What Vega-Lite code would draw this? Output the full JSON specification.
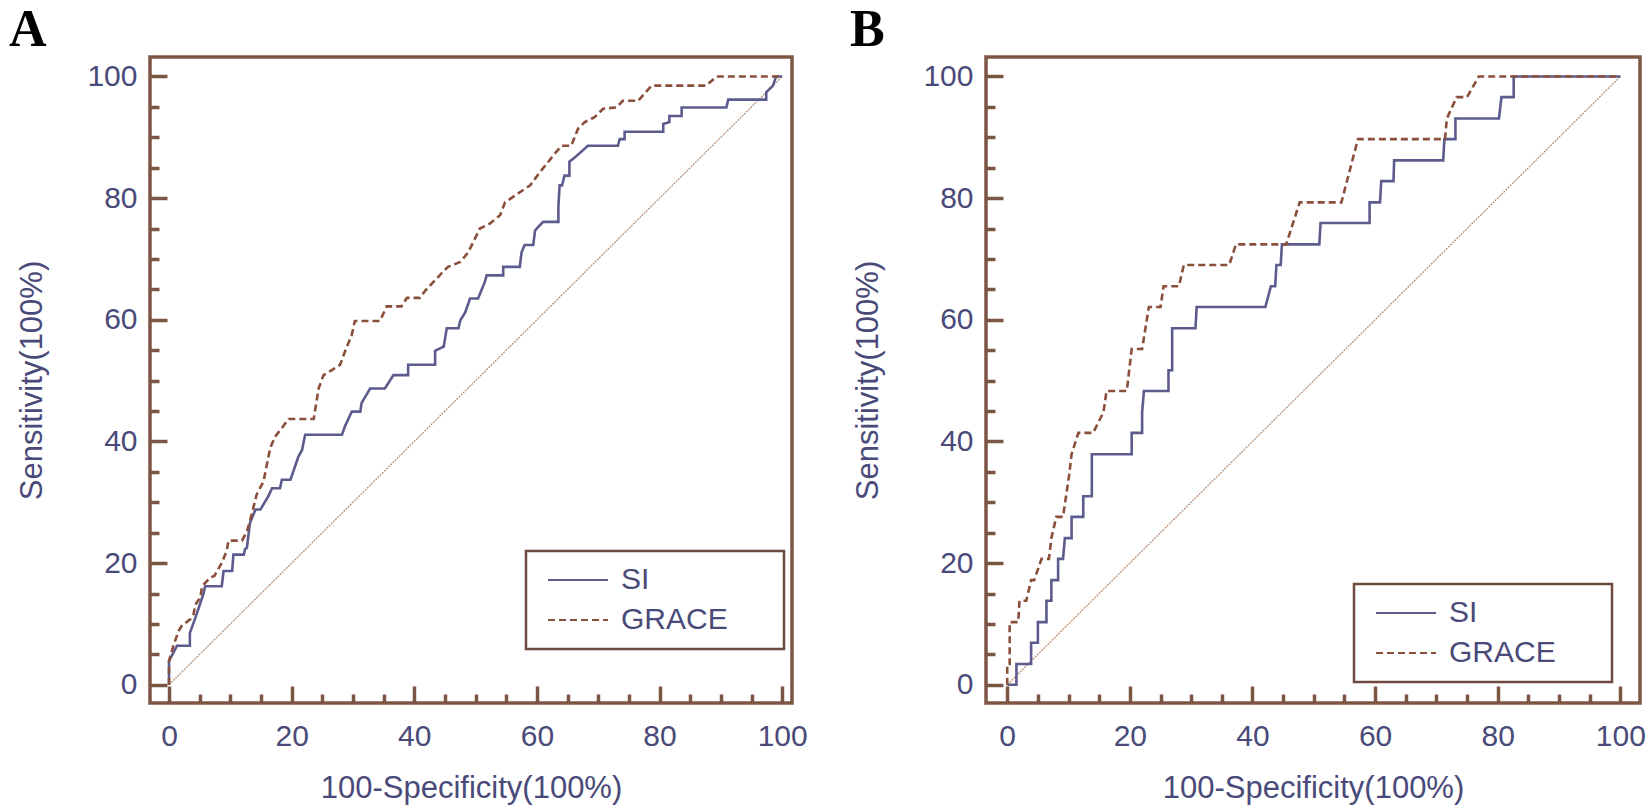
{
  "$schema": "https://vega.github.io/schema/vega-lite/v6.json",
  "background": "white",
  "padding": {"left": 7, "top": 2, "right": 0, "bottom": 0},
  "bounds": "flush",
  "spacing": 194,
  "resolve": {
    "scale": {"color": "independent", "strokeDash": "independent"},
    "legend": {"color": "independent", "strokeDash": "independent"}
  },
  "datasets": {
    "diag": [{"fpr": 0, "tpr": 0}, {"fpr": 100, "tpr": 100}],
    "A": [
      {"model":"SI","i":0,"fpr":0,"tpr":0},{"model":"SI","i":1,"fpr":0,"tpr":3.9},{"model":"SI","i":2,"fpr":1.3,"tpr":6.4},{"model":"SI","i":3,"fpr":3.4,"tpr":6.4},{"model":"SI","i":4,"fpr":3.4,"tpr":8.5},{"model":"SI","i":5,"fpr":4.3,"tpr":11},{"model":"SI","i":6,"fpr":5.6,"tpr":14.9},{"model":"SI","i":7,"fpr":5.9,"tpr":16.2},{"model":"SI","i":8,"fpr":8.6,"tpr":16.2},{"model":"SI","i":9,"fpr":8.9,"tpr":18.7},{"model":"SI","i":10,"fpr":10.3,"tpr":18.7},{"model":"SI","i":11,"fpr":10.5,"tpr":21.4},{"model":"SI","i":12,"fpr":12.2,"tpr":21.4},{"model":"SI","i":13,"fpr":12.4,"tpr":22.3},{"model":"SI","i":14,"fpr":12.7,"tpr":22.5},{"model":"SI","i":15,"fpr":13.2,"tpr":26.6},{"model":"SI","i":16,"fpr":14.1,"tpr":28.8},{"model":"SI","i":17,"fpr":14.9,"tpr":28.8},{"model":"SI","i":18,"fpr":16.2,"tpr":31},{"model":"SI","i":19,"fpr":16.8,"tpr":32.3},{"model":"SI","i":20,"fpr":18.1,"tpr":32.3},{"model":"SI","i":21,"fpr":18.4,"tpr":33.7},{"model":"SI","i":22,"fpr":19.8,"tpr":33.7},{"model":"SI","i":23,"fpr":21.1,"tpr":37.5},{"model":"SI","i":24,"fpr":21.7,"tpr":38.6},{"model":"SI","i":25,"fpr":22.2,"tpr":41.1},{"model":"SI","i":26,"fpr":28.2,"tpr":41.1},{"model":"SI","i":27,"fpr":28.7,"tpr":42.5},{"model":"SI","i":28,"fpr":29.8,"tpr":44.9},{"model":"SI","i":29,"fpr":31.2,"tpr":44.9},{"model":"SI","i":30,"fpr":31.4,"tpr":46.3},{"model":"SI","i":31,"fpr":32.8,"tpr":48.7},{"model":"SI","i":32,"fpr":35.2,"tpr":48.7},{"model":"SI","i":33,"fpr":36.6,"tpr":50.9},{"model":"SI","i":34,"fpr":39,"tpr":50.9},{"model":"SI","i":35,"fpr":39,"tpr":52.6},{"model":"SI","i":36,"fpr":43.4,"tpr":52.6},{"model":"SI","i":37,"fpr":43.4,"tpr":54.9},{"model":"SI","i":38,"fpr":44.8,"tpr":55.6},{"model":"SI","i":39,"fpr":45.3,"tpr":58.6},{"model":"SI","i":40,"fpr":47.2,"tpr":58.6},{"model":"SI","i":41,"fpr":47.5,"tpr":59.9},{"model":"SI","i":42,"fpr":48.3,"tpr":61.2},{"model":"SI","i":43,"fpr":49.1,"tpr":63.5},{"model":"SI","i":44,"fpr":50.4,"tpr":63.5},{"model":"SI","i":45,"fpr":51.5,"tpr":66.2},{"model":"SI","i":46,"fpr":51.8,"tpr":67.3},{"model":"SI","i":47,"fpr":54.5,"tpr":67.3},{"model":"SI","i":48,"fpr":54.5,"tpr":68.7},{"model":"SI","i":49,"fpr":57.2,"tpr":68.7},{"model":"SI","i":50,"fpr":57.5,"tpr":71.1},{"model":"SI","i":51,"fpr":58,"tpr":72.3},{"model":"SI","i":52,"fpr":59.4,"tpr":72.3},{"model":"SI","i":53,"fpr":59.7,"tpr":74.7},{"model":"SI","i":54,"fpr":61,"tpr":76.1},{"model":"SI","i":55,"fpr":63.5,"tpr":76.1},{"model":"SI","i":56,"fpr":63.5,"tpr":78.5},{"model":"SI","i":57,"fpr":63.7,"tpr":82.1},{"model":"SI","i":58,"fpr":64.1,"tpr":82.1},{"model":"SI","i":59,"fpr":64.5,"tpr":83.7},{"model":"SI","i":60,"fpr":65.3,"tpr":83.7},{"model":"SI","i":61,"fpr":65.3,"tpr":86},{"model":"SI","i":62,"fpr":66.2,"tpr":86.7},{"model":"SI","i":63,"fpr":68.3,"tpr":88.6},{"model":"SI","i":64,"fpr":73.2,"tpr":88.6},{"model":"SI","i":65,"fpr":73.5,"tpr":89.7},{"model":"SI","i":66,"fpr":74.3,"tpr":89.7},{"model":"SI","i":67,"fpr":74.3,"tpr":90.9},{"model":"SI","i":68,"fpr":80.6,"tpr":90.9},{"model":"SI","i":69,"fpr":80.6,"tpr":92.2},{"model":"SI","i":70,"fpr":81.6,"tpr":92.5},{"model":"SI","i":71,"fpr":81.6,"tpr":93.5},{"model":"SI","i":72,"fpr":83.6,"tpr":93.5},{"model":"SI","i":73,"fpr":83.6,"tpr":94.9},{"model":"SI","i":74,"fpr":90.9,"tpr":94.9},{"model":"SI","i":75,"fpr":91.2,"tpr":96.2},{"model":"SI","i":76,"fpr":97.4,"tpr":96.2},{"model":"SI","i":77,"fpr":97.4,"tpr":97.4},{"model":"SI","i":78,"fpr":98.5,"tpr":98.5},{"model":"SI","i":79,"fpr":99,"tpr":100},{"model":"SI","i":80,"fpr":100,"tpr":100},
      {"model":"GRACE","i":0,"fpr":0,"tpr":0},{"model":"GRACE","i":1,"fpr":0,"tpr":3.9},{"model":"GRACE","i":2,"fpr":0.8,"tpr":6.7},{"model":"GRACE","i":3,"fpr":1.6,"tpr":8.9},{"model":"GRACE","i":4,"fpr":2.1,"tpr":9.7},{"model":"GRACE","i":5,"fpr":3.5,"tpr":10.8},{"model":"GRACE","i":6,"fpr":4,"tpr":11.6},{"model":"GRACE","i":7,"fpr":4.3,"tpr":13.2},{"model":"GRACE","i":8,"fpr":5.1,"tpr":14.3},{"model":"GRACE","i":9,"fpr":5.4,"tpr":16.2},{"model":"GRACE","i":10,"fpr":6.7,"tpr":17.6},{"model":"GRACE","i":11,"fpr":7.4,"tpr":17.9},{"model":"GRACE","i":12,"fpr":8.6,"tpr":20},{"model":"GRACE","i":13,"fpr":9.4,"tpr":22},{"model":"GRACE","i":14,"fpr":9.7,"tpr":23.7},{"model":"GRACE","i":15,"fpr":11.9,"tpr":23.7},{"model":"GRACE","i":16,"fpr":12.7,"tpr":25.2},{"model":"GRACE","i":17,"fpr":13.2,"tpr":26.9},{"model":"GRACE","i":18,"fpr":14.3,"tpr":31.3},{"model":"GRACE","i":19,"fpr":15.4,"tpr":33.4},{"model":"GRACE","i":20,"fpr":16.5,"tpr":38.9},{"model":"GRACE","i":21,"fpr":17.3,"tpr":40.8},{"model":"GRACE","i":22,"fpr":18.4,"tpr":42.2},{"model":"GRACE","i":23,"fpr":19.5,"tpr":43.7},{"model":"GRACE","i":24,"fpr":23.6,"tpr":43.7},{"model":"GRACE","i":25,"fpr":24.4,"tpr":48.7},{"model":"GRACE","i":26,"fpr":25.2,"tpr":50.9},{"model":"GRACE","i":27,"fpr":26.5,"tpr":51.7},{"model":"GRACE","i":28,"fpr":27.9,"tpr":52.6},{"model":"GRACE","i":29,"fpr":28.7,"tpr":54.8},{"model":"GRACE","i":30,"fpr":29.8,"tpr":57.5},{"model":"GRACE","i":31,"fpr":30.3,"tpr":59.8},{"model":"GRACE","i":32,"fpr":34.4,"tpr":59.8},{"model":"GRACE","i":33,"fpr":35.5,"tpr":62.2},{"model":"GRACE","i":34,"fpr":37.9,"tpr":62.2},{"model":"GRACE","i":35,"fpr":38.8,"tpr":63.6},{"model":"GRACE","i":36,"fpr":40.9,"tpr":63.6},{"model":"GRACE","i":37,"fpr":41.8,"tpr":64.8},{"model":"GRACE","i":38,"fpr":44.7,"tpr":67.9},{"model":"GRACE","i":39,"fpr":45.5,"tpr":68.7},{"model":"GRACE","i":40,"fpr":47.5,"tpr":69.5},{"model":"GRACE","i":41,"fpr":48.8,"tpr":71.1},{"model":"GRACE","i":42,"fpr":50.7,"tpr":75},{"model":"GRACE","i":43,"fpr":52.3,"tpr":75.8},{"model":"GRACE","i":44,"fpr":54,"tpr":77.2},{"model":"GRACE","i":45,"fpr":54.8,"tpr":79.3},{"model":"GRACE","i":46,"fpr":56.4,"tpr":80.4},{"model":"GRACE","i":47,"fpr":58.9,"tpr":82.1},{"model":"GRACE","i":48,"fpr":60.5,"tpr":84.3},{"model":"GRACE","i":49,"fpr":61.8,"tpr":85.9},{"model":"GRACE","i":50,"fpr":62.9,"tpr":87.3},{"model":"GRACE","i":51,"fpr":64,"tpr":88.6},{"model":"GRACE","i":52,"fpr":65.6,"tpr":88.6},{"model":"GRACE","i":53,"fpr":66.7,"tpr":91.4},{"model":"GRACE","i":54,"fpr":67.8,"tpr":92.5},{"model":"GRACE","i":55,"fpr":69.4,"tpr":93.3},{"model":"GRACE","i":56,"fpr":70.8,"tpr":94.7},{"model":"GRACE","i":57,"fpr":73,"tpr":94.9},{"model":"GRACE","i":58,"fpr":74,"tpr":96},{"model":"GRACE","i":59,"fpr":76.5,"tpr":96},{"model":"GRACE","i":60,"fpr":78.7,"tpr":98.5},{"model":"GRACE","i":61,"fpr":87.6,"tpr":98.5},{"model":"GRACE","i":62,"fpr":89.3,"tpr":100},{"model":"GRACE","i":63,"fpr":100,"tpr":100}
    ],
    "B": [
      {"model":"SI","i":0,"fpr":0,"tpr":0},{"model":"SI","i":1,"fpr":1.5,"tpr":0},{"model":"SI","i":2,"fpr":1.5,"tpr":3.4},{"model":"SI","i":3,"fpr":3.9,"tpr":3.4},{"model":"SI","i":4,"fpr":3.9,"tpr":6.9},{"model":"SI","i":5,"fpr":5,"tpr":6.9},{"model":"SI","i":6,"fpr":5,"tpr":10.3},{"model":"SI","i":7,"fpr":6.4,"tpr":10.3},{"model":"SI","i":8,"fpr":6.4,"tpr":13.8},{"model":"SI","i":9,"fpr":7.2,"tpr":13.8},{"model":"SI","i":10,"fpr":7.2,"tpr":17.2},{"model":"SI","i":11,"fpr":8.3,"tpr":17.2},{"model":"SI","i":12,"fpr":8.3,"tpr":20.7},{"model":"SI","i":13,"fpr":9.1,"tpr":20.7},{"model":"SI","i":14,"fpr":9.4,"tpr":24.1},{"model":"SI","i":15,"fpr":10.5,"tpr":24.1},{"model":"SI","i":16,"fpr":10.5,"tpr":27.6},{"model":"SI","i":17,"fpr":12.4,"tpr":27.6},{"model":"SI","i":18,"fpr":12.4,"tpr":31},{"model":"SI","i":19,"fpr":13.8,"tpr":31},{"model":"SI","i":20,"fpr":13.8,"tpr":37.9},{"model":"SI","i":21,"fpr":20.3,"tpr":37.9},{"model":"SI","i":22,"fpr":20.3,"tpr":41.4},{"model":"SI","i":23,"fpr":22,"tpr":41.4},{"model":"SI","i":24,"fpr":22,"tpr":44.8},{"model":"SI","i":25,"fpr":22.3,"tpr":48.3},{"model":"SI","i":26,"fpr":26.3,"tpr":48.3},{"model":"SI","i":27,"fpr":26.3,"tpr":51.7},{"model":"SI","i":28,"fpr":26.9,"tpr":51.7},{"model":"SI","i":29,"fpr":26.9,"tpr":58.6},{"model":"SI","i":30,"fpr":30.7,"tpr":58.6},{"model":"SI","i":31,"fpr":30.9,"tpr":62.1},{"model":"SI","i":32,"fpr":42.1,"tpr":62.1},{"model":"SI","i":33,"fpr":43,"tpr":65.5},{"model":"SI","i":34,"fpr":43.7,"tpr":65.5},{"model":"SI","i":35,"fpr":43.9,"tpr":69},{"model":"SI","i":36,"fpr":44.6,"tpr":69},{"model":"SI","i":37,"fpr":44.8,"tpr":72.4},{"model":"SI","i":38,"fpr":50.9,"tpr":72.4},{"model":"SI","i":39,"fpr":51.1,"tpr":75.9},{"model":"SI","i":40,"fpr":59.1,"tpr":75.9},{"model":"SI","i":41,"fpr":59.1,"tpr":79.3},{"model":"SI","i":42,"fpr":60.8,"tpr":79.3},{"model":"SI","i":43,"fpr":61,"tpr":82.8},{"model":"SI","i":44,"fpr":63,"tpr":82.8},{"model":"SI","i":45,"fpr":63.1,"tpr":86.2},{"model":"SI","i":46,"fpr":71.1,"tpr":86.2},{"model":"SI","i":47,"fpr":71.3,"tpr":89.7},{"model":"SI","i":48,"fpr":73.1,"tpr":89.7},{"model":"SI","i":49,"fpr":73.1,"tpr":93.1},{"model":"SI","i":50,"fpr":80.2,"tpr":93.1},{"model":"SI","i":51,"fpr":80.6,"tpr":96.6},{"model":"SI","i":52,"fpr":82.6,"tpr":96.6},{"model":"SI","i":53,"fpr":82.6,"tpr":100},{"model":"SI","i":54,"fpr":100,"tpr":100},
      {"model":"GRACE","i":0,"fpr":0,"tpr":0},{"model":"GRACE","i":1,"fpr":0,"tpr":3.4},{"model":"GRACE","i":2,"fpr":0.4,"tpr":3.4},{"model":"GRACE","i":3,"fpr":0.4,"tpr":10.3},{"model":"GRACE","i":4,"fpr":1.8,"tpr":10.3},{"model":"GRACE","i":5,"fpr":2,"tpr":13.8},{"model":"GRACE","i":6,"fpr":3.1,"tpr":13.8},{"model":"GRACE","i":7,"fpr":3.9,"tpr":17.2},{"model":"GRACE","i":8,"fpr":4.4,"tpr":17.2},{"model":"GRACE","i":9,"fpr":5.6,"tpr":20.7},{"model":"GRACE","i":10,"fpr":6.8,"tpr":20.7},{"model":"GRACE","i":11,"fpr":7.2,"tpr":24.1},{"model":"GRACE","i":12,"fpr":8,"tpr":27.6},{"model":"GRACE","i":13,"fpr":9.1,"tpr":27.6},{"model":"GRACE","i":14,"fpr":10.1,"tpr":34.5},{"model":"GRACE","i":15,"fpr":10.5,"tpr":37.9},{"model":"GRACE","i":16,"fpr":11.6,"tpr":41.4},{"model":"GRACE","i":17,"fpr":14,"tpr":41.4},{"model":"GRACE","i":18,"fpr":15.7,"tpr":44.8},{"model":"GRACE","i":19,"fpr":16.2,"tpr":48.3},{"model":"GRACE","i":20,"fpr":19.5,"tpr":48.3},{"model":"GRACE","i":21,"fpr":20.3,"tpr":55.2},{"model":"GRACE","i":22,"fpr":22,"tpr":55.2},{"model":"GRACE","i":23,"fpr":23.1,"tpr":62.1},{"model":"GRACE","i":24,"fpr":25,"tpr":62.1},{"model":"GRACE","i":25,"fpr":25.5,"tpr":65.5},{"model":"GRACE","i":26,"fpr":28,"tpr":65.5},{"model":"GRACE","i":27,"fpr":28.8,"tpr":69},{"model":"GRACE","i":28,"fpr":36.2,"tpr":69},{"model":"GRACE","i":29,"fpr":37.3,"tpr":72.4},{"model":"GRACE","i":30,"fpr":45.5,"tpr":72.4},{"model":"GRACE","i":31,"fpr":47.7,"tpr":79.3},{"model":"GRACE","i":32,"fpr":54.5,"tpr":79.3},{"model":"GRACE","i":33,"fpr":57.2,"tpr":89.7},{"model":"GRACE","i":34,"fpr":71.4,"tpr":89.7},{"model":"GRACE","i":35,"fpr":71.7,"tpr":93.1},{"model":"GRACE","i":36,"fpr":73.3,"tpr":96.6},{"model":"GRACE","i":37,"fpr":75,"tpr":96.6},{"model":"GRACE","i":38,"fpr":76.9,"tpr":100},{"model":"GRACE","i":39,"fpr":100,"tpr":100}
    ]
  },
  "hconcat": [
    {
      "width": 642,
      "height": 646,
      "title": {"text": "A", "anchor": "start", "frame": "group", "dx": -141, "offset": -41, "baseline": "alphabetic", "font": "Liberation Serif", "fontSize": 52, "fontWeight": "bold", "color": "#000000"},
      "encoding": {
        "x": {"field": "fpr", "type": "quantitative", "scale": {"domain": [-3.1, 101.6], "nice": false, "zero": false},
          "axis": {"values": [0,5,10,15,20,25,30,35,40,45,50,55,60,65,70,75,80,85,90,95,100], "tickSize": {"condition": {"test": "datum.value % 20 === 0", "value": -17}, "value": -9}, "labelExpr": "datum.value % 20 === 0 ? datum.label : ''", "labelPadding": 35, "title": "100-Specificity(100%)", "titlePadding": 14}},
        "y": {"field": "tpr", "type": "quantitative", "scale": {"domain": [-3.0, 103.2], "nice": false, "zero": false},
          "axis": {"values": [0,5,10,15,20,25,30,35,40,45,50,55,60,65,70,75,80,85,90,95,100], "tickSize": {"condition": {"test": "datum.value % 20 === 0", "value": -17}, "value": -9}, "labelExpr": "datum.value % 20 === 0 ? datum.label : ''", "labelPadding": 30, "title": "Sensitivity(100%)", "titlePadding": 38}}
      },
      "layer": [
        {"data": {"name": "diag"}, "mark": {"type": "line", "color": "#b5896a", "strokeWidth": 1.2, "strokeDash": [2, 1]}},
        {"data": {"name": "A"}, "mark": {"type": "line", "strokeWidth": 2.6},
          "encoding": {
            "order": {"field": "i", "type": "quantitative"},
            "color": {"field": "model", "type": "nominal", "scale": {"domain": ["SI", "GRACE"], "range": ["#5c5b8e", "#8a4f3a"]},
              "legend": {"orient": "none", "legendX": 376, "legendY": 494, "title": null, "labelExpr": "datum.label + '\u00a0\u00a0\u00a0\u00a0\u00a0\u200b'"}},
            "strokeDash": {"field": "model", "type": "nominal", "scale": {"domain": ["SI", "GRACE"], "range": [[1, 0], [7, 4]]},
              "legend": {"orient": "none", "legendX": 376, "legendY": 494, "title": null, "labelExpr": "datum.label + '\u00a0\u00a0\u00a0\u00a0\u00a0\u200b'"}}
          }}
      ]
    },
    {
      "width": 654,
      "height": 646,
      "title": {"text": "B", "anchor": "start", "frame": "group", "dx": -136, "offset": -41, "baseline": "alphabetic", "font": "Liberation Serif", "fontSize": 52, "fontWeight": "bold", "color": "#000000"},
      "encoding": {
        "x": {"field": "fpr", "type": "quantitative", "scale": {"domain": [-3.46, 103.2], "nice": false, "zero": false},
          "axis": {"values": [0,5,10,15,20,25,30,35,40,45,50,55,60,65,70,75,80,85,90,95,100], "tickSize": {"condition": {"test": "datum.value % 20 === 0", "value": -17}, "value": -9}, "labelExpr": "datum.value % 20 === 0 ? datum.label : ''", "labelPadding": 35, "title": "100-Specificity(100%)", "titlePadding": 14}},
        "y": {"field": "tpr", "type": "quantitative", "scale": {"domain": [-3.0, 103.2], "nice": false, "zero": false},
          "axis": {"values": [0,5,10,15,20,25,30,35,40,45,50,55,60,65,70,75,80,85,90,95,100], "tickSize": {"condition": {"test": "datum.value % 20 === 0", "value": -17}, "value": -9}, "labelExpr": "datum.value % 20 === 0 ? datum.label : ''", "labelPadding": 30, "title": "Sensitivity(100%)", "titlePadding": 38}}
      },
      "layer": [
        {"data": {"name": "diag"}, "mark": {"type": "line", "color": "#b5896a", "strokeWidth": 1.2, "strokeDash": [2, 1]}},
        {"data": {"name": "B"}, "mark": {"type": "line", "strokeWidth": 2.6},
          "encoding": {
            "order": {"field": "i", "type": "quantitative"},
            "color": {"field": "model", "type": "nominal", "scale": {"domain": ["SI", "GRACE"], "range": ["#5c5b8e", "#8a4f3a"]},
              "legend": {"orient": "none", "legendX": 368, "legendY": 527, "title": null, "labelExpr": "datum.label + '\u00a0\u00a0\u00a0\u00a0\u00a0\u200b'"}},
            "strokeDash": {"field": "model", "type": "nominal", "scale": {"domain": ["SI", "GRACE"], "range": [[1, 0], [7, 4]]},
              "legend": {"orient": "none", "legendX": 368, "legendY": 527, "title": null, "labelExpr": "datum.label + '\u00a0\u00a0\u00a0\u00a0\u00a0\u200b'"}}
          }}
      ]
    }
  ],
  "config": {
    "font": "Liberation Sans",
    "view": {"stroke": "#7d5545", "strokeWidth": 3.5},
    "axis": {
      "domain": false,
      "grid": false,
      "tickColor": "#7d5545",
      "tickWidth": 3.5,
      "labelFont": "Liberation Sans",
      "labelFontSize": 30,
      "labelColor": "#4a4a7a",
      "labelOverlap": false,
      "labelFlush": false,
      "titleFont": "Liberation Sans",
      "titleFontSize": 31,
      "titleFontWeight": "normal",
      "titleColor": "#4a4a7a"
    },
    "legend": {
      "strokeColor": "#6e4a40",
      "strokeWidth": 2.5,
      "fillColor": "#ffffff",
      "padding": 14,
      "rowPadding": 10,
      "symbolType": "M-3,0H3",
      "symbolSize": 400,
      "symbolStrokeWidth": 2,
      "symbolOffset": 23,
      "labelOffset": 28,
      "labelFont": "Liberation Sans",
      "labelFontSize": 30,
      "labelColor": "#4a4a7a",
      "labelLimit": 400
    }
  }
}
